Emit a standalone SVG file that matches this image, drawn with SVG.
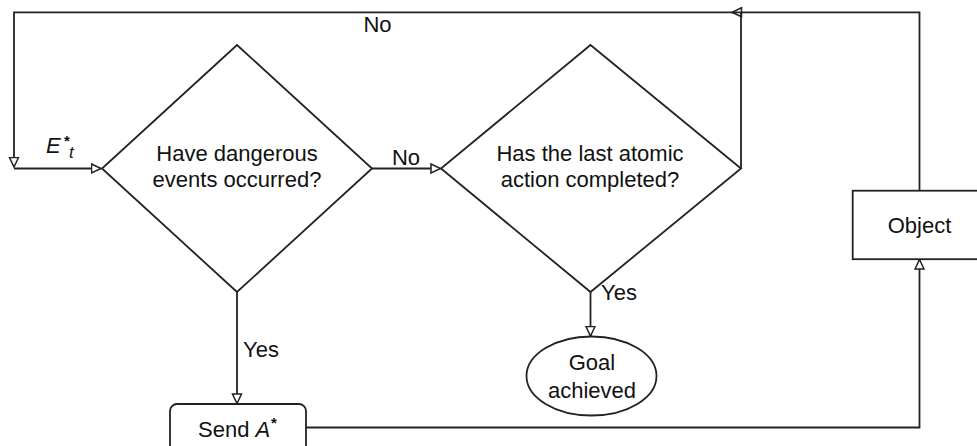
<svg xmlns="http://www.w3.org/2000/svg" width="977" height="446" viewBox="0 0 977 446">
  <style>
    .shape { fill: #ffffff; stroke: #222222; stroke-width: 1.8; }
    .wire { fill: none; stroke: #222222; stroke-width: 1.8; }
    .lbl { font-family: "Liberation Sans", Arial, sans-serif; font-size: 22px; fill: #111111; }
    .mid { text-anchor: middle; }
    .it { font-style: italic; }
    .star { font-size: 15px; font-weight: bold; }
  </style>
  <defs>
    <marker id="open-arrow" markerUnits="userSpaceOnUse" markerWidth="12" markerHeight="12" viewBox="-1 -1 12 12" refX="9.5" refY="5" orient="auto">
      <path d="M0,0.5 L9.5,5 L0,9.5 z" fill="#ffffff" stroke="#222222" stroke-width="1.5"/>
    </marker>
  </defs>

  <rect width="977" height="446" fill="#ffffff"/>

  <!-- connectors -->
  <g id="connectors">
    <!-- feedback from Object back to the top rail -->
    <path class="wire" d="M919.5,190.7 V12.3 H732" marker-end="url(#open-arrow)"/>
    <!-- "No" branch of the second decision rising to the rail -->
    <path class="wire" d="M741,168.5 V12.3"/>
    <!-- rail running back to the start -->
    <path class="wire" d="M741,12.3 H14 V167" marker-end="url(#open-arrow)"/>
    <!-- E*t input into the first decision -->
    <path class="wire" d="M14,168.5 H101" marker-end="url(#open-arrow)"/>
    <!-- No: first decision to second decision -->
    <path class="wire" d="M372,168.5 H440.5" marker-end="url(#open-arrow)"/>
    <!-- Yes: first decision to Send A* -->
    <path class="wire" d="M237,292 V403.5" marker-end="url(#open-arrow)"/>
    <!-- Yes: second decision to goal -->
    <path class="wire" d="M590.5,292 V336" marker-end="url(#open-arrow)"/>
    <!-- Send A* to Object -->
    <path class="wire" d="M306,427.5 H919.5 V259.5" marker-end="url(#open-arrow)"/>

    <text class="lbl mid" x="377.5" y="31.5">No</text>
    <text class="lbl mid" x="406" y="165">No</text>
    <text class="lbl" x="243" y="357">Yes</text>
    <text class="lbl" x="601" y="300">Yes</text>
    <text class="lbl" x="46" y="153"><tspan class="it">E</tspan><tspan class="star" x="64" y="146">*</tspan><tspan class="it" x="69" y="158" font-size="17">t</tspan></text>
  </g>

  <!-- nodes -->
  <g id="danger-check">
    <polygon class="shape" points="237,45 372,168.5 237,292 102,168.5"/>
    <text class="lbl mid" x="237" y="161">Have dangerous</text>
    <text class="lbl mid" x="237" y="187">events occurred?</text>
  </g>

  <g id="action-check">
    <polygon class="shape" points="590.5,45 741,168.5 590.5,292 441,168.5"/>
    <text class="lbl mid" x="590" y="161">Has the last atomic</text>
    <text class="lbl mid" x="590" y="187">action completed?</text>
  </g>

  <g id="goal">
    <ellipse class="shape" cx="591.5" cy="376" rx="65" ry="39.5"/>
    <text class="lbl mid" x="592" y="370">Goal</text>
    <text class="lbl mid" x="592" y="398">achieved</text>
  </g>

  <g id="send-action">
    <rect class="shape" x="170" y="404" width="136" height="52" rx="7"/>
    <text class="lbl" x="198" y="436.5">Send <tspan class="it">A</tspan><tspan class="star" x="271" y="428">*</tspan></text>
  </g>

  <g id="object">
    <rect class="shape" x="852.7" y="190.7" width="134" height="68.5"/>
    <text class="lbl mid" x="919.5" y="233">Object</text>
  </g>
</svg>
